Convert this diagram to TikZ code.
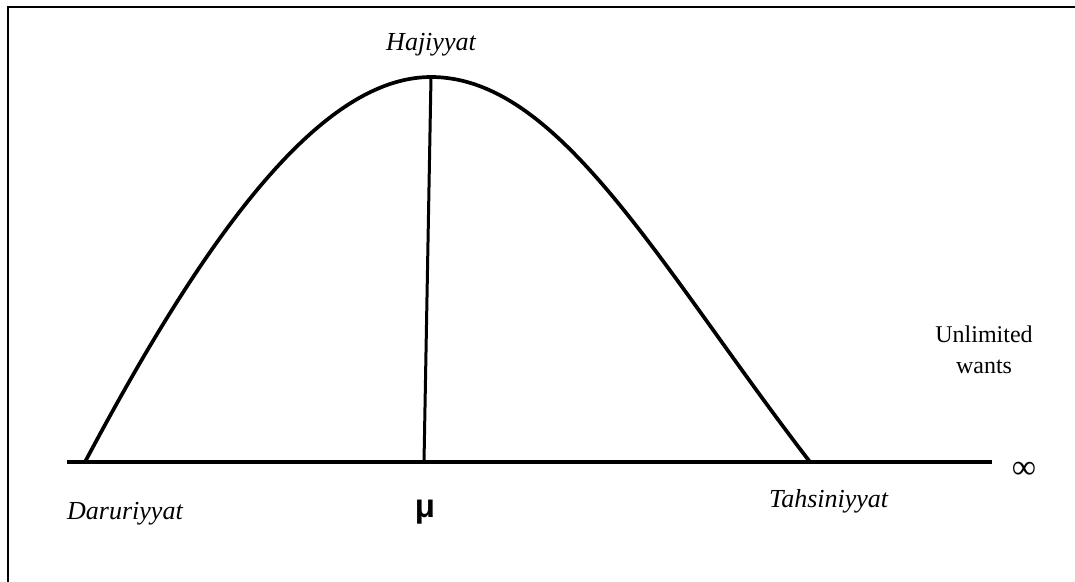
\documentclass[tikz,border=0pt]{standalone}
\usepackage{fontspec}
\setmainfont{Liberation Serif}
\newfontfamily\lsans{Liberation Sans}
\begin{document}
\begin{tikzpicture}[x=1pt,y=-1pt,
  lbl/.style={font=\fontsize{26}{30}\selectfont\itshape, inner sep=0pt},
  plain/.style={font=\fontsize{24}{31}\selectfont, inner sep=0pt, align=center},
  thick line/.style={line width=3.7pt},
  frame/.style={line width=1.8pt}]
\useasboundingbox (0,0) rectangle (1075,581);
\draw[frame] (8,590) -- (8,7) -- (1085,7);
\coordinate (axL) at (67,462);
\coordinate (axR) at (992,462);
\coordinate (base1) at (85,462);
\coordinate (peak) at (431,77);
\coordinate (base2) at (810,462);
\coordinate (foot) at (424,462);
\draw[thick line] (axL) -- (axR);
\draw[thick line, line cap=butt] (base1) .. controls (205,236) and (320,77) .. (peak)
   .. controls (560,77) and (660,267) .. (base2);
\draw[line width=3pt] (peak) -- (foot);
\node[lbl, anchor=base] (haj) at (431,50) {Hajiyyat};
\node[lbl, anchor=base west] (dar) at (67,519) {Daruriyyat};
\node[lbl, anchor=base west] (tah) at (769,507) {Tahsiniyyat};
\node[inner sep=0pt, font=\lsans\bfseries\fontsize{33}{33}\selectfont] (mu) at (425,512) {μ};
\node[plain, anchor=base] (unl) at (984,342) {Unlimited};
\node[plain, anchor=base] (wan) at (984,373) {wants};
\node[inner sep=0pt, font=\fontsize{34}{34}\selectfont] (inf) at (1024,470) {∞};
\end{tikzpicture}
\end{document}
